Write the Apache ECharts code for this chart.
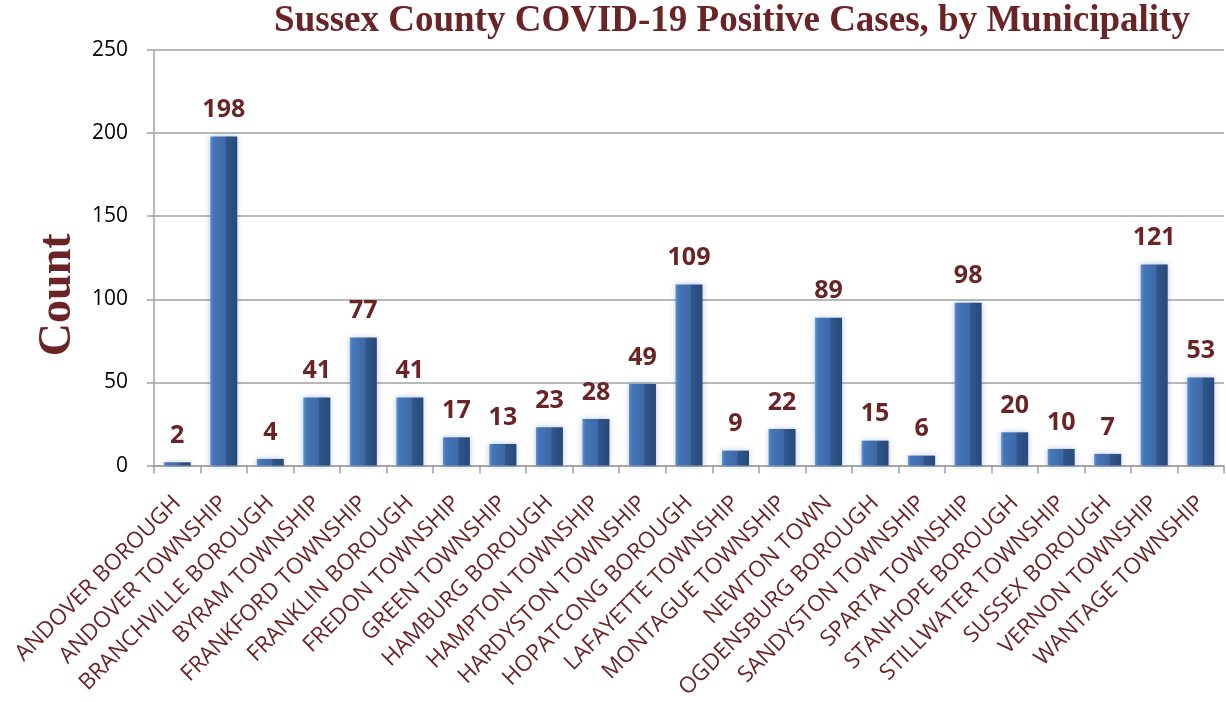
<!DOCTYPE html>
<html>
<head>
<meta charset="utf-8">
<script src="https://cdn.jsdelivr.net/npm/echarts@6/dist/echarts.min.js"></script>
<style>
  html, body { margin: 0; padding: 0; background: #fff; }
  #main { width: 1226px; height: 702px; }
</style>
</head>
<body>
<div id="main"></div>
<script>
// municipalities and counts
const municipalities = [
  "ANDOVER BOROUGH", "ANDOVER TOWNSHIP", "BRANCHVILLE BOROUGH", "BYRAM TOWNSHIP",
  "FRANKFORD TOWNSHIP", "FRANKLIN BOROUGH", "FREDON TOWNSHIP", "GREEN TOWNSHIP",
  "HAMBURG BOROUGH", "HAMPTON TOWNSHIP", "HARDYSTON TOWNSHIP", "HOPATCONG BOROUGH",
  "LAFAYETTE TOWNSHIP", "MONTAGUE TOWNSHIP", "NEWTON TOWN", "OGDENSBURG BOROUGH",
  "SANDYSTON TOWNSHIP", "SPARTA TOWNSHIP", "STANHOPE BOROUGH", "STILLWATER TOWNSHIP",
  "SUSSEX BOROUGH", "VERNON TOWNSHIP", "WANTAGE TOWNSHIP"
];
const positiveCases = [2, 198, 4, 41, 77, 41, 17, 13, 23, 28, 49, 109, 9, 22, 89, 15, 6, 98, 20, 10, 7, 121, 53];

const darkRed = "#6b2426";
const chart = echarts.init(document.getElementById("main"));

const option = {
  animation: false,
  title: {
    text: "Sussex County COVID-19 Positive Cases, by Municipality",
    left: 727,
    top: -2,
    textAlign: "center",
    textStyle: {
      fontFamily: "Liberation Serif",
      fontWeight: "bold",
      fontSize: 37,
      color: darkRed,
    },
  },
  grid: {
    left: 154,
    right: 2,
    top: 50,
    bottom: 235,
  },
  xAxis: {
    type: "category",
    data: municipalities,
    axisLine: { lineStyle: { color: "#a0a0a0", width: 1.5 } },
    axisTick: { show: true, length: 8, lineStyle: { color: "#a0a0a0", width: 1.5 } },
    axisLabel: {
      rotate: 45,
      interval: 0,
      margin: 34,
      color: darkRed,
      fontFamily: "Open Sans",
      fontSize: 22.5,
    },
  },
  yAxis: {
    type: "value",
    min: 0,
    max: 250,
    interval: 50,
    name: "Count",
    nameLocation: "middle",
    nameGap: 72,
    nameTextStyle: {
      fontFamily: "Liberation Serif",
      fontWeight: "bold",
      fontSize: 46,
      color: darkRed,
      padding: [0, 74, 0, 0],
    },
    axisLine: { show: true, lineStyle: { color: "#a0a0a0", width: 1.5 } },
    axisTick: { show: true, length: 7, lineStyle: { color: "#a0a0a0", width: 1.5 } },
    axisLabel: {
      margin: 26,
      color: "#000",
      fontFamily: "Open Sans",
      fontSize: 21,
    },
    splitLine: { lineStyle: { color: "#a0a0a0", width: 1.5 } },
  },
  series: [
    {
      type: "bar",
      data: positiveCases,
      barWidth: 27,
      itemStyle: {
        color: new echarts.graphic.LinearGradient(0, 0, 1, 0, [
          { offset: 0, color: "#5b91d3" },
          { offset: 0.12, color: "#4475b6" },
          { offset: 0.55, color: "#3d6aa8" },
          { offset: 0.6, color: "#2f5689" },
          { offset: 1, color: "#28497a" },
        ]),
        shadowColor: "rgba(60, 100, 170, 0.35)",
        shadowBlur: 6,
      },
      label: {
        show: true,
        position: "top",
        distance: 14,
        color: darkRed,
        fontFamily: "Open Sans",
        fontWeight: "bold",
        fontSize: 25,
      },
    },
  ],
};

chart.setOption(option);
</script>
</body>
</html>
